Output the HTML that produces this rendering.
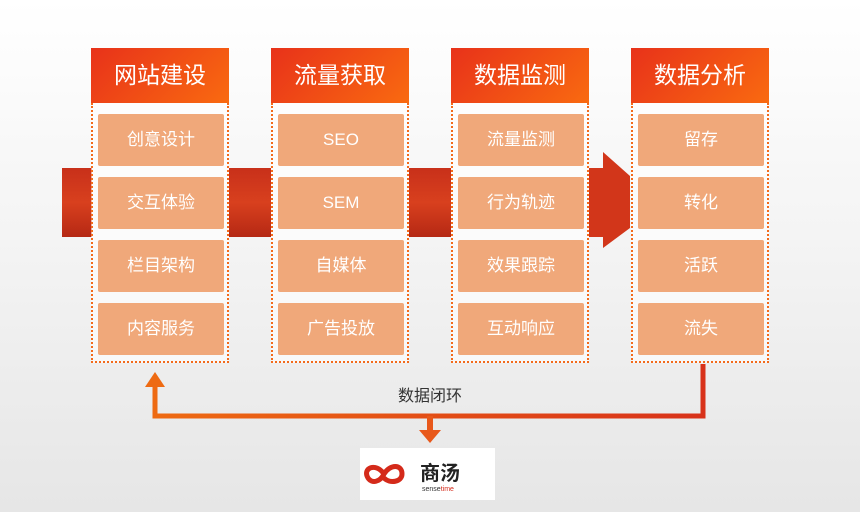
<!DOCTYPE html>
<html><head><meta charset="utf-8"><style>
body{margin:0;width:860px;height:512px;overflow:hidden;background:linear-gradient(180deg,#ffffff 0%,#f3f3f3 50%,#e6e6e6 100%);font-family:"Liberation Sans","Noto Sans CJK SC",sans-serif;position:relative}
.band{position:absolute;top:168px;height:69px;background:linear-gradient(180deg,#c8301a,#d8401e 50%,#b52814)}
.col{position:absolute;top:48px;width:138px}
.hd{height:55px;background:linear-gradient(135deg,#e8321a,#f96a10);color:#fff;font-size:23px;text-align:center;line-height:55px}
.bx{height:258px;border:2px dotted #f36b1c;border-top:none;box-sizing:border-box;height:260px;background:rgba(255,255,255,.6);position:relative}
.it{position:absolute;left:5px;width:126px;height:52px;background:#f0a87a;border-radius:2px;color:#fff;font-size:17px;text-align:center;line-height:52px}
.logo{position:absolute;left:360px;top:448px;width:135px;height:52px;background:#fff}
</style></head><body>
<div class="band" style="left:62px;width:30px"></div>
<div class="band" style="left:229px;width:42px"></div>
<div class="band" style="left:409px;width:42px"></div>
<svg style="position:absolute;left:0;top:0" width="860" height="512">
<polygon points="589,168 603,168 603,152 630,176 630,228 603,248 603,237 589,237" fill="#d2361a"/>
</svg>
<div class="col" style="left:91px"><div class="hd">网站建设</div><div class="bx">
<div class="it" style="top:11px">创意设计</div><div class="it" style="top:74px">交互体验</div><div class="it" style="top:137px">栏目架构</div><div class="it" style="top:200px">内容服务</div></div></div>
<div class="col" style="left:271px"><div class="hd">流量获取</div><div class="bx">
<div class="it" style="top:11px">SEO</div><div class="it" style="top:74px">SEM</div><div class="it" style="top:137px">自媒体</div><div class="it" style="top:200px">广告投放</div></div></div>
<div class="col" style="left:451px"><div class="hd">数据监测</div><div class="bx">
<div class="it" style="top:11px">流量监测</div><div class="it" style="top:74px">行为轨迹</div><div class="it" style="top:137px">效果跟踪</div><div class="it" style="top:200px">互动响应</div></div></div>
<div class="col" style="left:631px"><div class="hd">数据分析</div><div class="bx">
<div class="it" style="top:11px">留存</div><div class="it" style="top:74px">转化</div><div class="it" style="top:137px">活跃</div><div class="it" style="top:200px">流失</div></div></div>
<svg style="position:absolute;left:0;top:0" width="860" height="512">
<defs><linearGradient id="g" x1="0" x2="1"><stop offset="0" stop-color="#ee6a12"/><stop offset="1" stop-color="#d8321a"/></linearGradient></defs>
<path d="M703,364 V416 H155 V385" fill="none" stroke="url(#g)" stroke-width="5"/>
<polygon points="145,387 165,387 155,372" fill="#ee6a12"/>
<rect x="427" y="416" width="6" height="16" fill="#e8581a"/>
<polygon points="419,430 441,430 430,443" fill="#e8581a"/>
<text x="430" y="401" font-size="16" text-anchor="middle" fill="#333" font-family="Liberation Sans,Noto Sans CJK SC,sans-serif">数据闭环</text>
</svg>
<div class="logo">
<svg width="135" height="52">
<path d="M24,26 c-8,-12 -22,-6 -16,4 c4,6 12,4 16,-4 c6,-10 18,-10 18,0 c0,8 -12,10 -18,4" fill="none" stroke="#d42a1a" stroke-width="5"/>
<text x="60" y="32" font-size="20" font-weight="bold" fill="#222" font-family="Noto Sans CJK SC,sans-serif">商汤</text>
<text x="62" y="43" font-size="7" fill="#333">sense<tspan fill="#d42a1a">time</tspan></text>
</svg></div>
</body></html>
